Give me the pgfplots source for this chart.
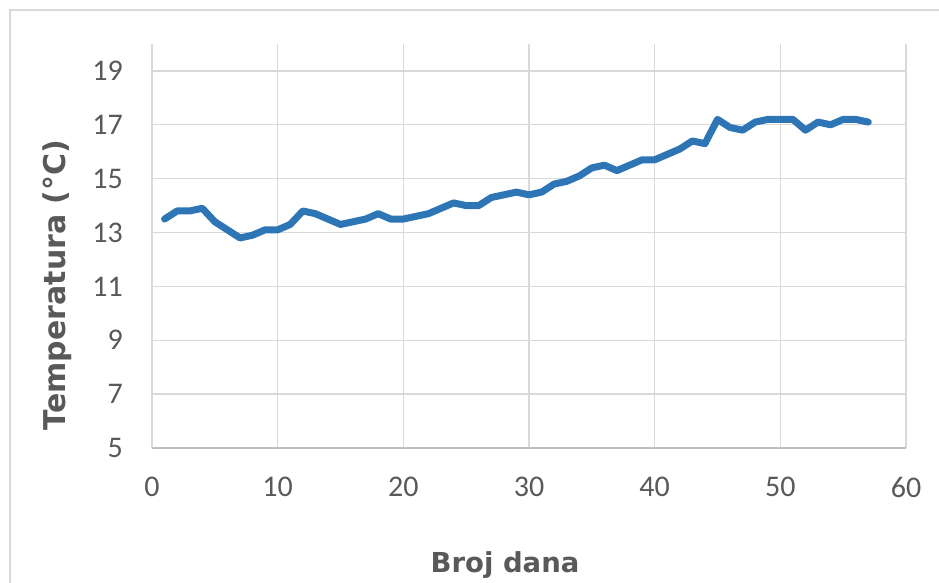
\documentclass[border=0pt]{standalone}
\usepackage{pgfplots}
\pgfplotsset{compat=1.18}
\usepackage{fontspec}
\setmainfont{Carlito}
\newfontfamily\labfont{DejaVu Sans}
\definecolor{linec}{HTML}{2E75B6}
\definecolor{gridc}{HTML}{D9D9D9}
\definecolor{axc}{HTML}{BFBFBF}
\definecolor{txt}{HTML}{595959}
\begin{document}
\begin{tikzpicture}[x=1pt,y=1pt]
\begin{axis}[
  at={(152pt,135pt)}, anchor=south west,
  width=754pt, height=404pt, scale only axis=true,
  xmin=0, xmax=60, ymin=5, ymax=20,
  xtick={0,10,...,60}, ytick={5,7,...,19},
  grid=major, major grid style={gridc, line width=1.3pt},
  axis line style={draw=none},
  major tick length=0pt,
  tick label style={font=\fontsize{30}{36}\selectfont, text=txt, inner sep=0pt},
  yticklabel style={anchor=east, xshift=-29pt},
  xticklabel style={anchor=north, yshift=-29pt},
  /pgf/number format/assume math mode=true,
  clip=false,
]
\draw[axc, line width=1.5pt] (axis cs:0,5) -- (axis cs:60,5);
\addplot[linec, line width=7pt, line join=round, line cap=round] coordinates {
(1,13.5)(2,13.8)(3,13.8)(4,13.9)(5,13.4)(6,13.1)(7,12.8)(8,12.9)(9,13.1)(10,13.1)
(11,13.3)(12,13.8)(13,13.7)(14,13.5)(15,13.3)(16,13.4)(17,13.5)(18,13.7)(19,13.5)(20,13.5)
(21,13.6)(22,13.7)(23,13.9)(24,14.1)(25,14.0)(26,14.0)(27,14.3)(28,14.4)(29,14.5)(30,14.4)
(31,14.5)(32,14.8)(33,14.9)(34,15.1)(35,15.4)(36,15.5)(37,15.3)(38,15.5)(39,15.7)(40,15.7)
(41,15.9)(42,16.1)(43,16.4)(44,16.3)(45,17.2)(46,16.9)(47,16.8)(48,17.1)(49,17.2)(50,17.2)
(51,17.2)(52,16.8)(53,17.1)(54,17.0)(55,17.2)(56,17.2)(57,17.1)
};
\end{axis}
\node[rotate=90, anchor=base, text=txt, inner sep=0pt, font=\labfont\fontsize{30}{36}\selectfont\bfseries] at (65,298) {Temperatura (°C)};
\node[anchor=base, text=txt, inner sep=0pt, font=\labfont\fontsize{27.5}{33}\selectfont\bfseries] at (505,10) {Broj dana};
\draw[gridc, line width=1.5pt] (10,-30) -- (10,573) -- (970,573);
\pgfresetboundingbox
\useasboundingbox (0,0) rectangle (939,583);
\end{tikzpicture}
\end{document}
